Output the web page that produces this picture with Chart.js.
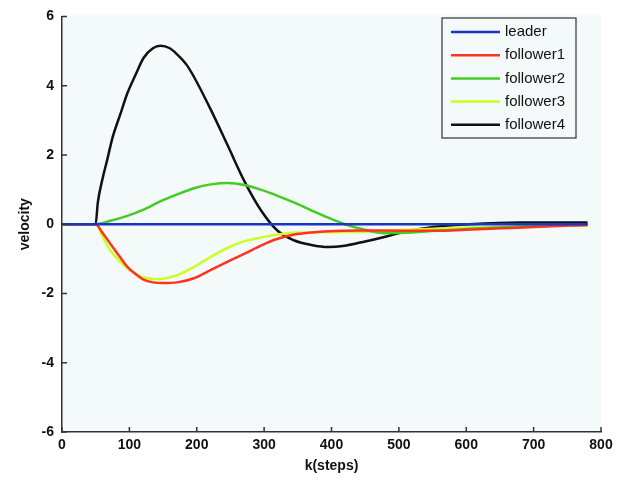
<!DOCTYPE html>
<html>
<head>
<meta charset="utf-8">
<script src="https://cdn.jsdelivr.net/npm/chart.js@4/dist/chart.umd.min.js"></script>
<style>
    html, body { margin: 0; padding: 0; background: #ffffff; }
    #wrap { width: 632px; height: 483px; }
</style>
</head>
<body>
<div id="wrap"><canvas id="chart" width="632" height="483"></canvas></div>
<script>
// Series names and colours
const seriesNames = ["leader", "follower1", "follower2", "follower3", "follower4"];
const colors = ["#1a33c8", "#ff3322", "#44cc22", "#ccff22", "#111111"];

// Tick values for the axes
const xTicks = [0, 100, 200, 300, 400, 500, 600, 700, 800];
const yTicks = [-6, -4, -2, 0, 2, 4, 6];

// Values: k(steps) and velocity
const leaderK = [0, 50, 780];
const leaderV = [0, 0, 0];

const follower1K = [0, 50, 60, 72, 85, 97, 110, 121, 135, 150, 171, 196, 221, 246, 271, 296, 320, 345, 370, 395, 445, 500, 554, 600, 654, 700, 780];
const follower1V = [0, 0, -0.25, -0.57, -0.92, -1.23, -1.45, -1.6, -1.68, -1.7, -1.68, -1.56, -1.32, -1.08, -0.85, -0.61, -0.42, -0.3, -0.24, -0.2, -0.18, -0.19, -0.19, -0.16, -0.12, -0.08, -0.02];

const follower2K = [0, 50, 72, 97, 121, 146, 171, 196, 221, 246, 271, 296, 320, 345, 370, 395, 420, 445, 480, 520, 554, 600, 654, 700, 780];
const follower2V = [0, 0, 0.1, 0.24, 0.42, 0.66, 0.86, 1.04, 1.15, 1.19, 1.13, 0.99, 0.82, 0.62, 0.4, 0.19, 0.0, -0.14, -0.26, -0.24, -0.19, -0.14, -0.09, -0.05, -0.02];

const follower3K = [0, 50, 60, 72, 85, 97, 110, 121, 142, 171, 196, 221, 246, 271, 296, 320, 345, 395, 445, 500, 554, 600, 654, 700, 780];
const follower3V = [0, 0, -0.35, -0.76, -1.05, -1.27, -1.44, -1.54, -1.59, -1.47, -1.23, -0.94, -0.68, -0.49, -0.38, -0.3, -0.25, -0.23, -0.22, -0.17, -0.13, -0.1, -0.08, -0.05, -0.03];

const follower4K = [0, 50, 53, 60, 67, 75, 87, 97, 110, 121, 135, 146, 160, 171, 185, 196, 221, 246, 271, 296, 320, 345, 370, 395, 420, 445, 480, 505, 554, 604, 679, 780];
const follower4V = [0, 0, 0.6, 1.3, 1.85, 2.5, 3.2, 3.78, 4.35, 4.8, 5.08, 5.15, 5.08, 4.9, 4.6, 4.25, 3.3, 2.27, 1.23, 0.38, -0.19, -0.47, -0.6, -0.66, -0.62, -0.52, -0.36, -0.23, -0.07, 0.0, 0.05, 0.05];

const seriesK = [leaderK, follower1K, follower2K, follower3K, follower4K];
const seriesV = [leaderV, follower1V, follower2V, follower3V, follower4V];

const tickFont = { family: "Arial, 'Liberation Sans', sans-serif", size: 14, weight: "bold" };

// fills the plot area with the pale background
const plotBackground = {
    id: "plotBackground",
    beforeDraw(chart) {
        const { ctx, chartArea } = chart;
        ctx.save();
        ctx.fillStyle = "#f4f9fa";
        ctx.fillRect(chartArea.left, chartArea.top - 1, chartArea.right - chartArea.left, chartArea.bottom - chartArea.top + 1);
        ctx.restore();
    }
};

// small ticks pointing into the plot area
const innerTicks = {
    id: "innerTicks",
    afterDraw(chart) {
        const { ctx, chartArea, scales } = chart;
        ctx.save();
        ctx.strokeStyle = "#333333";
        ctx.lineWidth = 1.5;
        ctx.beginPath();
        for (const t of xTicks) {
            const px = scales.x.getPixelForValue(t);
            ctx.moveTo(px, chartArea.bottom);
            ctx.lineTo(px, chartArea.bottom - 5);
        }
        for (const t of yTicks) {
            const py = scales.y.getPixelForValue(t);
            ctx.moveTo(chartArea.left, py);
            ctx.lineTo(chartArea.left + 5, py);
        }
        ctx.stroke();
        ctx.restore();
    }
};

// legend box drawn inside the top right corner
const boxLegend = {
    id: "boxLegend",
    afterDraw(chart) {
        const { ctx } = chart;
        const boxX = 442, boxY = 18, boxW = 134, boxH = 120;
        ctx.save();
        ctx.fillStyle = "#f4f9fa";
        ctx.fillRect(boxX, boxY, boxW, boxH);
        ctx.strokeStyle = "#333333";
        ctx.lineWidth = 1.2;
        ctx.strokeRect(boxX, boxY, boxW, boxH);
        ctx.font = "15px Arial, 'Liberation Sans', sans-serif";
        ctx.textBaseline = "middle";
        chart.data.datasets.forEach((ds, i) => {
            const y = 32 + i * 23.2;
            ctx.strokeStyle = ds.borderColor;
            ctx.lineWidth = 2.5;
            ctx.beginPath();
            ctx.moveTo(451, y);
            ctx.lineTo(500, y);
            ctx.stroke();
            ctx.fillStyle = "#111111";
            ctx.fillText(ds.label, 505, y);
        });
        ctx.restore();
    }
};

new Chart(document.getElementById("chart"), {
    type: "line",
    data: {
        datasets: seriesNames.map((name, i) => ({
            label: name,
            data: seriesK[i].map((k, j) => ({ x: k, y: seriesV[i][j] })),
            borderColor: colors[i],
            backgroundColor: colors[i],
            borderWidth: 2.5,
            pointRadius: 0,
            cubicInterpolationMode: "monotone",
            fill: false
        }))
    },
    options: {
        responsive: false,
        animation: false,
        layout: { padding: { left: 0, right: 31, top: 8, bottom: 0 } },
        plugins: {
            legend: { display: false },
            tooltip: { enabled: false }
        },
        scales: {
            x: {
                type: "linear",
                min: 0,
                max: 800,
                afterFit: s => { s.height = 51; },
                afterBuildTicks: s => { s.ticks = xTicks.map(v => ({ value: v })); },
                grid: { display: false, drawTicks: false },
                border: { display: true, color: "#333333", width: 1.5 },
                ticks: { color: "#111111", font: tickFont, padding: 5, maxRotation: 0 },
                title: {
                    display: true,
                    text: "k(steps)",
                    color: "#111111",
                    font: tickFont,
                    padding: { top: 0, bottom: 8 }
                }
            },
            y: {
                min: -6,
                max: 6,
                afterFit: s => { s.width = 62; },
                afterBuildTicks: s => { s.ticks = yTicks.map(v => ({ value: v })); },
                grid: { display: false, drawTicks: false },
                border: { display: true, color: "#333333", width: 1.5 },
                ticks: { color: "#111111", font: tickFont, padding: 8 },
                title: {
                    display: true,
                    text: "velocity",
                    color: "#111111",
                    font: tickFont,
                    padding: { top: 17, bottom: 0 }
                }
            }
        }
    },
    plugins: [plotBackground, innerTicks, boxLegend]
});
</script>
</body>
</html>
